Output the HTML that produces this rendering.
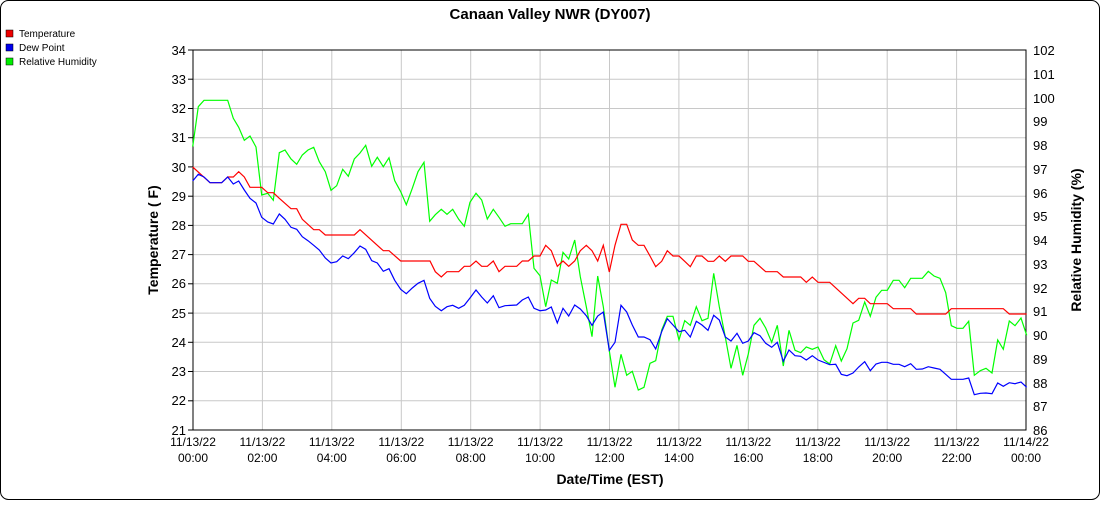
<!DOCTYPE html>
<html><head><meta charset="utf-8"><style>
body{margin:0;background:#fff;font-family:"Liberation Sans",sans-serif}
</style></head><body>
<svg width="1100" height="500" xmlns="http://www.w3.org/2000/svg" font-family="Liberation Sans, sans-serif">
<rect x="0.5" y="0.5" width="1099" height="499" rx="8" fill="#fff" stroke="#000"/>
<text x="550" y="19" text-anchor="middle" font-size="15" font-weight="bold">Canaan Valley NWR (DY007)</text>
<g font-size="10">
<rect x="6" y="30" width="7" height="7" fill="#e00" stroke="#000" stroke-width="0.5"/><text x="19" y="37">Temperature</text>
<rect x="6" y="44" width="7" height="7" fill="#00e" stroke="#000" stroke-width="0.5"/><text x="19" y="51">Dew Point</text>
<rect x="6" y="58" width="7" height="7" fill="#0e0" stroke="#000" stroke-width="0.5"/><text x="19" y="65">Relative Humidity</text>
</g>
<g stroke="#c8c8c8" stroke-width="1">
<line x1="193" y1="79.2" x2="1026" y2="79.2"/><line x1="193" y1="108.5" x2="1026" y2="108.5"/><line x1="193" y1="137.7" x2="1026" y2="137.7"/><line x1="193" y1="166.9" x2="1026" y2="166.9"/><line x1="193" y1="196.2" x2="1026" y2="196.2"/><line x1="193" y1="225.4" x2="1026" y2="225.4"/><line x1="193" y1="254.6" x2="1026" y2="254.6"/><line x1="193" y1="283.8" x2="1026" y2="283.8"/><line x1="193" y1="313.1" x2="1026" y2="313.1"/><line x1="193" y1="342.3" x2="1026" y2="342.3"/><line x1="193" y1="371.5" x2="1026" y2="371.5"/><line x1="193" y1="400.8" x2="1026" y2="400.8"/>
<line x1="262.4" y1="50" x2="262.4" y2="430"/><line x1="331.8" y1="50" x2="331.8" y2="430"/><line x1="401.3" y1="50" x2="401.3" y2="430"/><line x1="470.7" y1="50" x2="470.7" y2="430"/><line x1="540.1" y1="50" x2="540.1" y2="430"/><line x1="609.5" y1="50" x2="609.5" y2="430"/><line x1="678.9" y1="50" x2="678.9" y2="430"/><line x1="748.3" y1="50" x2="748.3" y2="430"/><line x1="817.8" y1="50" x2="817.8" y2="430"/><line x1="887.2" y1="50" x2="887.2" y2="430"/><line x1="956.6" y1="50" x2="956.6" y2="430"/>
</g>
<rect x="193" y="50" width="833" height="380" fill="none" stroke="#000"/>
<g stroke="#000">
<line x1="188" y1="50" x2="193" y2="50"/><line x1="188" y1="79.2" x2="193" y2="79.2"/><line x1="188" y1="108.5" x2="193" y2="108.5"/><line x1="188" y1="137.7" x2="193" y2="137.7"/><line x1="188" y1="166.9" x2="193" y2="166.9"/><line x1="188" y1="196.2" x2="193" y2="196.2"/><line x1="188" y1="225.4" x2="193" y2="225.4"/><line x1="188" y1="254.6" x2="193" y2="254.6"/><line x1="188" y1="283.8" x2="193" y2="283.8"/><line x1="188" y1="313.1" x2="193" y2="313.1"/><line x1="188" y1="342.3" x2="193" y2="342.3"/><line x1="188" y1="371.5" x2="193" y2="371.5"/><line x1="188" y1="400.8" x2="193" y2="400.8"/><line x1="188" y1="430" x2="193" y2="430"/>
</g>
<g font-size="13" text-anchor="end">
<text x="186" y="55">34</text><text x="186" y="84">33</text><text x="186" y="113">32</text><text x="186" y="142">31</text><text x="186" y="172">30</text><text x="186" y="201">29</text><text x="186" y="230">28</text><text x="186" y="259">27</text><text x="186" y="288">26</text><text x="186" y="318">25</text><text x="186" y="347">24</text><text x="186" y="376">23</text><text x="186" y="405">22</text><text x="186" y="435">21</text>
</g>
<g font-size="13">
<text x="1033" y="55">102</text><text x="1033" y="79">101</text><text x="1033" y="103">100</text><text x="1033" y="126">99</text><text x="1033" y="150">98</text><text x="1033" y="174">97</text><text x="1033" y="198">96</text><text x="1033" y="221">95</text><text x="1033" y="245">94</text><text x="1033" y="269">93</text><text x="1033" y="293">92</text><text x="1033" y="316">91</text><text x="1033" y="340">90</text><text x="1033" y="364">89</text><text x="1033" y="388">88</text><text x="1033" y="411">87</text><text x="1033" y="435">86</text>
</g>
<g font-size="12" text-anchor="middle">
<text x="193" y="446">11/13/22</text><text x="193" y="462">00:00</text>
<text x="262.4" y="446">11/13/22</text><text x="262.4" y="462">02:00</text>
<text x="331.8" y="446">11/13/22</text><text x="331.8" y="462">04:00</text>
<text x="401.3" y="446">11/13/22</text><text x="401.3" y="462">06:00</text>
<text x="470.7" y="446">11/13/22</text><text x="470.7" y="462">08:00</text>
<text x="540.1" y="446">11/13/22</text><text x="540.1" y="462">10:00</text>
<text x="609.5" y="446">11/13/22</text><text x="609.5" y="462">12:00</text>
<text x="678.9" y="446">11/13/22</text><text x="678.9" y="462">14:00</text>
<text x="748.3" y="446">11/13/22</text><text x="748.3" y="462">16:00</text>
<text x="817.8" y="446">11/13/22</text><text x="817.8" y="462">18:00</text>
<text x="887.2" y="446">11/13/22</text><text x="887.2" y="462">20:00</text>
<text x="956.6" y="446">11/13/22</text><text x="956.6" y="462">22:00</text>
<text x="1026" y="446">11/14/22</text><text x="1026" y="462">00:00</text>
</g>
<text x="610" y="484" text-anchor="middle" font-size="14" font-weight="bold">Date/Time (EST)</text>
<text transform="translate(158,240) rotate(-90)" text-anchor="middle" font-size="14" font-weight="bold">Temperature ( F)</text>
<text transform="translate(1081,240) rotate(-90)" text-anchor="middle" font-size="14" font-weight="bold">Relative Humidity (%)</text>
<g fill="none" stroke-width="1.2">
<polyline stroke="#0f0" points="192.7,146.7 198.3,106.7 204,100.3 227.7,100.3 233.3,118.3 238.7,127.3 244.3,140.3 250,136 256,147 261.7,195 267.7,193.3 273.3,200.3 279.3,152.7 285,150 291,159 296.7,164.3 302.3,155 308,150 313.7,147.3 319.3,161.7 325.3,171.7 331,190.3 336.7,185.7 342.7,169.3 348.3,176.3 354.3,159 360,153 365.7,145.3 371.7,166.3 377.3,157.3 383.3,166.7 389,157.7 394.7,180.7 400.7,191.7 406.3,204.7 412.3,188.3 418,171.7 424,162.3 429.7,221.3 435.3,214.7 441.3,209.3 447,214.3 452.7,209.3 458.7,219.3 464.3,226.3 470,202.3 476,193.3 481.7,200 487.3,219 493.3,209.3 499,217.3 505,226.3 510.7,223.7 522.3,223.7 528.3,214.3 534,268.3 540,275.7 545.7,306.7 551.3,280 557.3,283.3 563,252.3 568.7,259 574.7,240 580.3,276.7 586.3,306.7 592,336.7 597.7,276 603.3,306.7 609.3,350.7 615,387.3 621,354.3 626.7,375.3 632.3,371.3 638.3,390 644,387.3 650,363.3 655.7,360.7 661.7,330 667.3,316.3 673,316.3 679,340 684.7,320.7 690.3,325.3 696.3,306.7 702,320.7 708,318.3 713.7,273.3 719.3,306.7 725.3,337 731,368.3 737,345.3 742.7,375.3 748.3,354 754,325.3 760,318.3 765.7,328 771.7,342.3 777.3,325.3 783.3,366 789,330.3 795,350.3 800.7,352.7 806.3,347 812.3,349.3 818,347 824,359.7 829.7,364 835.7,345.7 841.3,361 847,348.7 853,323 858.7,320.3 864.7,302 870.3,316.3 876,297.3 881.7,290.3 887.3,290.3 893.3,280.3 899,280.3 904.7,287.7 910.7,278.3 922.3,278.3 928.3,271.3 934,276 940,278.3 945.7,292.7 951.3,325.7 957,328.3 963,328.3 968.7,321.3 974.3,375.3 980.3,370.7 986,368.3 992,373 997.7,340 1003.3,349.3 1009.3,321 1015,325.7 1021,318 1026.7,335.3"/>
<polyline stroke="#f00" points="192.7,167 210,182.7 221.7,182.7 227.7,177 233.3,177 238.7,171.7 244.3,177 250,187.3 261.7,187.3 267.7,192.7 273.3,192.7 279.3,198.3 291,208.7 296.7,208.7 302.3,219.3 313.7,229.7 319.3,229.7 325.3,235 354.3,235 360,229.7 383.3,250.7 389,250.7 400.7,261 430,261 435.3,271.7 441.3,277 447,271.7 458.7,271.7 464.3,266.3 470,266.3 476,261 481.7,266.3 487.3,266.3 493.3,261 499,271.7 505,266.3 516.7,266.3 522.3,261 528.3,261 534,256 540,256 545.7,245.3 551.3,250.7 557.3,266.3 563,261 568.7,266.3 574.7,261 580.3,250.7 586.3,245.3 592,250.7 597.7,261 603.3,245.3 609.3,272 615,245.3 621,224.3 626.7,224.3 632.3,240 638.3,245.3 644,245.3 650,256 655.7,266.7 661.7,261.3 667.3,250.7 673,256 679,256 684.7,261.3 690.3,266.7 696.3,256 702,256 708,261.3 713.7,261.3 719.3,256 725.3,261.3 731,256 742.7,256 748.3,261.3 754,261.3 765.7,271.7 777.3,271.7 783.3,277 800.7,277 806.3,282.3 812.3,277 818,282.3 829.7,282.3 853,303.7 858.7,298.3 864.7,298.3 870.3,303.7 887.3,303.7 893.3,308.7 910.7,308.7 916.3,314 945.7,314 951.3,308.7 1003.3,308.7 1009.3,314 1026.7,314"/>
<polyline stroke="#00f" points="192.7,181 198.3,174.3 204,177 210,182.7 221.7,182.7 227.7,177 233.3,184 238.7,181 244.3,190 250,198.3 256,203 261.7,217.3 267.7,222 273.3,224 279.3,214 285,219.3 291,227.3 296.7,229.3 302.3,236.7 308,240.7 313.7,245.3 319.3,250 325.3,258 331,263 336.7,261.7 342.7,256 348.3,258.7 354.3,252.7 360,246 365.7,249.3 371.7,260.7 377.3,263 383.3,271.3 389,268.7 394.7,280.3 400.7,289.3 406.3,293.7 412.3,288 418,283.3 424,280.3 429.7,298.3 435.3,306.3 441.3,310.7 447,306.7 452.7,305.3 458.7,308.3 464.3,305.3 470,298 476,290 481.7,297 487.3,303 493.3,295.7 499,307.7 505,305.7 516.7,305 522.3,300 528.3,297 534,308.3 540,310.7 545.7,310 551.3,307 557.3,323 563,308.3 568.7,316 574.7,305 580.3,309 586.3,315.7 592,325.3 597.7,316 603.3,312 609.3,350.3 615,342.3 621,305.3 626.7,312 632.3,325 638.3,337 644,337 650,339.7 655.7,349 661.7,331.7 667.3,318.7 673,325 679,331.7 684.7,330.3 690.3,337 696.3,321.3 702,325 708,330.3 713.7,315.3 719.3,320 725.3,337 731,341 737,333.3 742.7,343.3 748.3,341 754,332.7 760,335.7 765.7,343.3 771.7,347.3 777.3,342.3 783.3,361.3 789,350 795,355.7 800.7,356.3 806.3,360 812.3,355.7 818,360 829.7,364.7 835.7,364.3 841.3,374.3 847,375.7 853,373 858.7,367 864.7,361.7 870.3,370.7 876,364 881.7,362.3 887.3,362.3 893.3,364.3 899,364.3 904.7,366.7 910.7,363.7 916.3,369.3 922.3,369 928.3,366.7 934,368 940,369.3 945.7,374.3 951.3,379.3 963,379.3 968.7,378 974.3,394.7 980.3,393.3 986,393 992,393.7 997.7,383 1003.3,386.3 1009.3,382.7 1015,383.7 1021,382 1026.7,387.3"/>
</g>
</svg>
</body></html>
